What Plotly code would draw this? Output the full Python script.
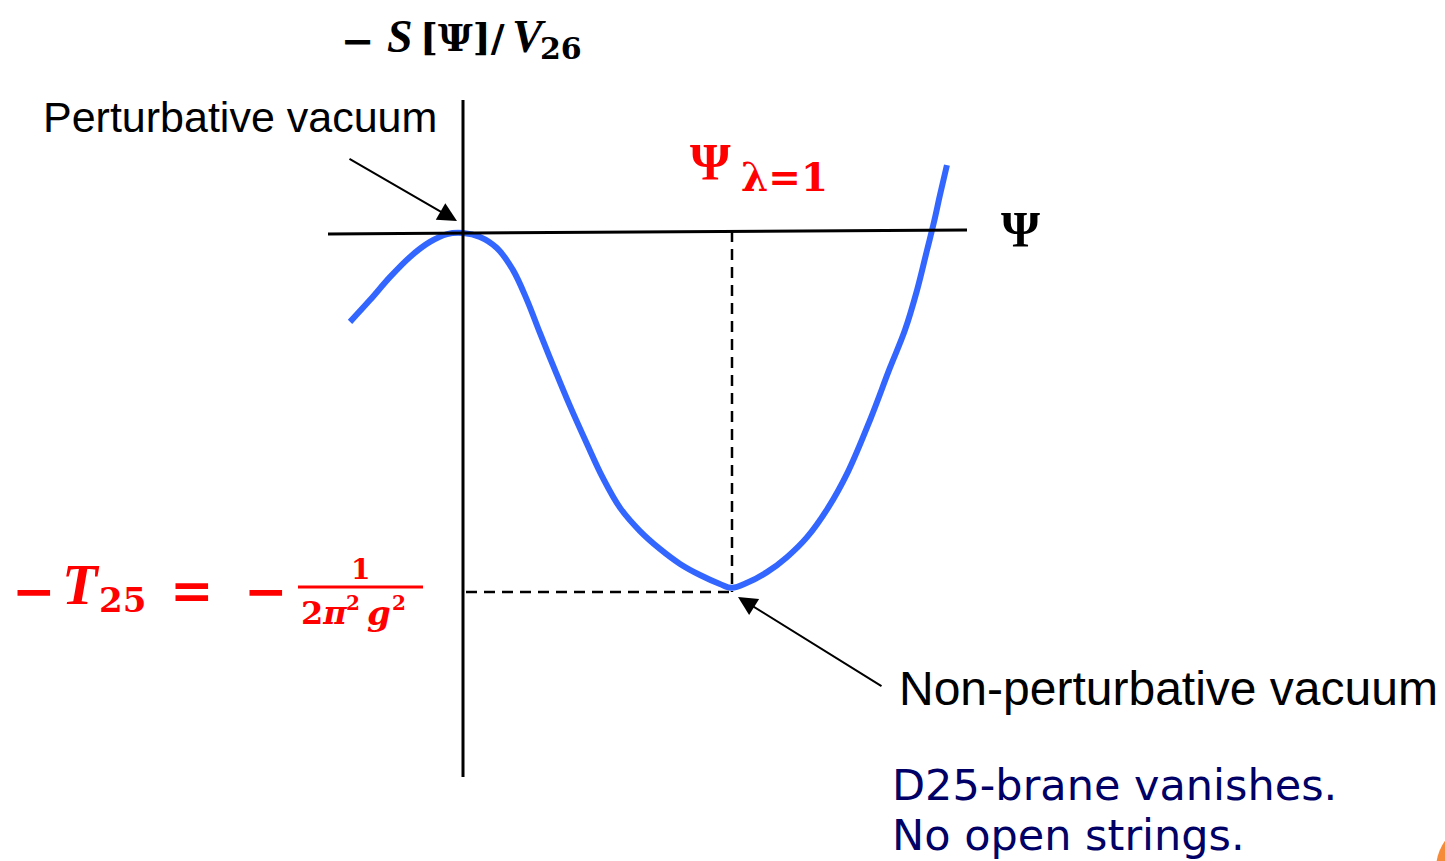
import plotly.graph_objects as go

# ---- data: potential curve, Psi in units of Psi_{lambda=1}, -S/V26 in units of T25
psi = [-0.420, -0.346, -0.271, -0.197, -0.123, -0.059, 0.0, 0.063, 0.126, 0.186, 0.238,
       0.286, 0.342, 0.398, 0.461, 0.520, 0.584, 0.658, 0.732, 0.807, 0.881, 0.955,
       1.0, 1.056, 1.130, 1.204, 1.279, 1.357, 1.431, 1.513, 1.587, 1.643, 1.688,
       1.725, 1.751, 1.773, 1.799]
action = [-0.249, -0.188, -0.123, -0.067, -0.025, -0.003, 0.0, -0.011, -0.042, -0.104, -0.188,
          -0.280, -0.384, -0.485, -0.591, -0.686, -0.770, -0.835, -0.885, -0.927, -0.958, -0.983,
          -0.994, -0.980, -0.950, -0.908, -0.852, -0.770, -0.669, -0.524, -0.378, -0.272, -0.160,
          -0.048, 0.031, 0.106, 0.190]
psi_vacuum = [1.0]
tension = [-1.0]

W, H = 1445, 861
OX, OY, SX, SY = 463.0, 233.0, 269.0, 357.0


def X(px):
    return (px - OX) / SX


def Y(py):
    return -(py - OY) / SY


fig = go.Figure()
fig.add_trace(go.Scatter(x=psi, y=action, mode="lines",
                         line=dict(color="#3366FF", width=6, shape="spline", smoothing=1.0),
                         hoverinfo="skip", showlegend=False))

shapes = []
# axes
shapes.append(dict(type="line", x0=X(328), y0=Y(234), x1=X(967), y1=Y(230),
                   line=dict(color="black", width=3)))
shapes.append(dict(type="line", x0=0, y0=Y(100), x1=0, y1=Y(777),
                   line=dict(color="black", width=3)))
# dashed guides
shapes.append(dict(type="line", x0=psi_vacuum[0], y0=Y(231), x1=psi_vacuum[0], y1=Y(592),
                   line=dict(color="black", width=2.5, dash="11px,7px")))
shapes.append(dict(type="line", x0=X(466), y0=Y(592), x1=psi_vacuum[0], y1=Y(592),
                   line=dict(color="black", width=2.5, dash="11px,7px")))
# fraction bar
shapes.append(dict(type="line", x0=X(298), y0=Y(587), x1=X(423), y1=Y(587),
                   line=dict(color="#FF0000", width=3)))
# orange corner decoration
shapes.append(dict(type="circle", x0=X(1436), y0=Y(820), x1=X(1534), y1=Y(918),
                   fillcolor="#F68B3A", line=dict(width=0)))

serif = "DejaVu Serif"
tserif = "Liberation Serif"
sans = "Liberation Sans"
RED = "#FF0000"
ann = []


def text(px, py, t, size, color="black", family=sans, xanchor="center"):
    ann.append(dict(x=X(px), y=Y(py), text=t, showarrow=False, xanchor=xanchor, yanchor="middle",
                    font=dict(size=size, color=color, family=family)))


# y-axis title
text(358, 40, "<b>−</b>", 40, family=serif)
text(400, 36, "<b><i>S</i></b>", 46, family=tserif)
text(462, 37, "<b>[Ψ]/</b>", 38, family=serif)
text(529, 36, "<b><i>V</i></b>", 46, family=tserif)
text(561, 48, "<b>26</b>", 30, family=serif)

text(240, 117, "Perturbative vacuum", 43)
text(1168, 688, "Non-perturbative vacuum", 48)
text(1020, 229, "<b>Ψ</b>", 50, family=tserif)

text(710, 162, "<b>Ψ</b>", 52, color=RED, family=tserif)
text(784, 177, "<b>λ=1</b>", 39, color=RED, family=serif)

text(34, 590, "<b>−</b>", 52, color=RED, family=serif)
text(81, 584, "<b><i>T</i></b>", 58, color=RED, family=tserif)
text(122, 600, "<b>25</b>", 34, color=RED, family=serif)
text(192, 590, "<b>=</b>", 52, color=RED, family=serif)
text(266, 590, "<b>−</b>", 52, color=RED, family=serif)
text(360, 569, "<b>1</b>", 28, color=RED, family=serif)
text(324, 613, "<b>2<i>π</i></b>", 32, color=RED, family=serif)
text(353, 603, "<b>2</b>", 20, color=RED, family=serif)
text(379, 613, "<b><i>g</i></b>", 34, color=RED, family=serif)
text(399, 603, "<b>2</b>", 20, color=RED, family=serif)

text(890, 785, "D25-brane vanishes.", 43, color="#000066", family="DejaVu Sans", xanchor="left")
text(890, 835, "No open strings.", 43, color="#000066", family="DejaVu Sans", xanchor="left")

# arrows
ann.append(dict(x=X(457), y=Y(221), ax=X(348), ay=Y(158), axref="x", ayref="y", xref="x", yref="y",
                showarrow=True, arrowhead=2, arrowsize=1.9, arrowwidth=2, arrowcolor="black", text=""))
ann.append(dict(x=X(738), y=Y(597), ax=X(883), ay=Y(687), axref="x", ayref="y", xref="x", yref="y",
                showarrow=True, arrowhead=2, arrowsize=1.9, arrowwidth=2, arrowcolor="black", text=""))

fig.update_layout(width=W, height=H, margin=dict(l=0, r=0, t=0, b=0),
                  paper_bgcolor="white", plot_bgcolor="white",
                  shapes=shapes, annotations=ann,
                  xaxis=dict(range=[X(0), X(W)], visible=False, fixedrange=True),
                  yaxis=dict(range=[Y(H), Y(0)], visible=False, fixedrange=True))

fig.write_html("out.html", config={"displayModeBar": False},
               post_script="document.body.style.margin='0px';document.body.style.overflow='hidden';")
